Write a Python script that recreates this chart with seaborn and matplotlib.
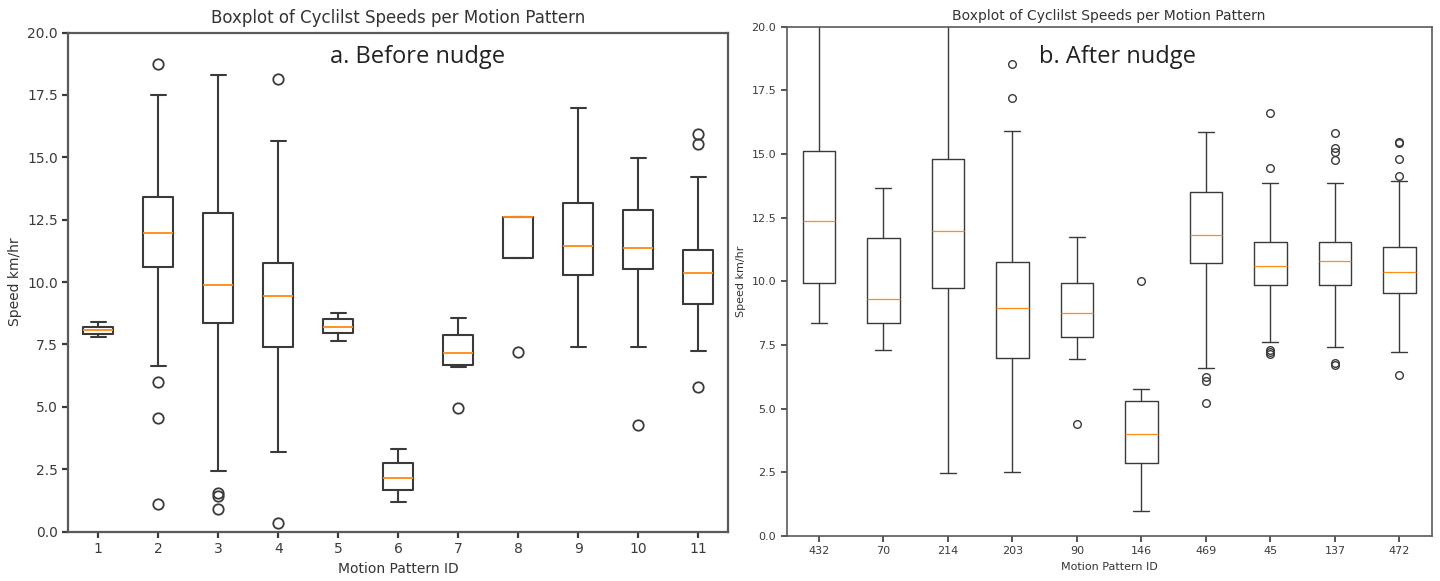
import matplotlib
matplotlib.use("Agg")
import matplotlib.pyplot as plt
import seaborn as sns

# ---- panel a: before nudge (stats) ----
ids_before = ["1", "2", "3", "4", "5", "6", "7", "8", "9", "10", "11"]
wlo_before = [7.79, 6.65, 2.45, 3.19, 7.65, 1.17, 6.61, 10.95, 7.39, 7.39, 7.24]
q1_before = [7.91, 10.59, 8.35, 7.39, 7.95, 1.65, 6.67, 10.95, 10.28, 10.51, 9.12]
med_before = [8.08, 11.95, 9.88, 9.44, 8.21, 2.17, 7.16, 12.59, 11.45, 11.35, 10.35]
q3_before = [8.21, 13.41, 12.75, 10.77, 8.51, 2.75, 7.87, 12.59, 13.15, 12.88, 11.28]
whi_before = [8.39, 17.48, 18.28, 15.65, 8.77, 3.31, 8.57, 12.59, 16.99, 14.97, 14.21]
fliers_before = [
    [],
    [18.75, 6.01, 4.57, 1.10],
    [1.55, 1.42, 0.91],
    [18.12, 0.35],
    [],
    [],
    [4.95],
    [7.19],
    [],
    [4.28],
    [15.95, 15.55, 5.79],
]

# ---- panel b: after nudge ----
ids_after = ["432", "70", "214", "203", "90", "146", "469", "45", "137", "472"]
wlo_after = [8.35, 7.29, 2.49, 2.51, 6.96, 0.99, 6.60, 7.60, 7.41, 7.24]
q1_after = [9.95, 8.35, 9.72, 7.00, 7.83, 2.88, 10.71, 9.85, 9.85, 9.53]
med_after = [12.37, 9.29, 11.99, 8.96, 8.74, 4.00, 11.81, 10.61, 10.80, 10.38]
q3_after = [15.13, 11.69, 14.79, 10.77, 9.92, 5.30, 13.52, 11.53, 11.53, 11.33]
whi_after = [22.5, 13.65, 22.5, 15.90, 11.73, 5.78, 15.87, 13.86, 13.86, 13.94]
fliers_after = [
    [],
    [],
    [],
    [18.52, 17.21],
    [4.38],
    [10.02],
    [6.26, 6.09, 5.21],
    [16.62, 14.44, 7.30, 7.22, 7.15],
    [15.81, 15.22, 15.09, 14.76, 6.78, 6.70],
    [15.48, 15.42, 14.79, 14.13, 6.31],
]

sns.set_style("ticks")
plt.rcParams["font.family"] = ["DejaVu Sans"]

fig = plt.figure(figsize=(14.4, 5.81), dpi=100)
ax1 = fig.add_axes([0.0474, 0.0849, 0.4584, 0.8591])
ax2 = fig.add_axes([0.5463, 0.0775, 0.4479, 0.8765])


def make_stats(ids, wlo, q1, med, q3, whi, fliers):
    stats = []
    for i in range(len(ids)):
        stats.append({
            "label": ids[i], "whislo": wlo[i], "q1": q1[i], "med": med[i],
            "q3": q3[i], "whishi": whi[i], "fliers": fliers[i],
        })
    return stats


def draw_panel(ax, stats, lw, msize, mew, spine_lw, tick_fs, label_fs, title_fs, pad):
    line = dict(color="#3a3a3a", linewidth=lw)
    ax.bxp(stats, widths=0.5,
           boxprops=line, whiskerprops=line, capprops=line,
           medianprops=dict(color="#ff8c1a", linewidth=lw * 0.9),
           flierprops=dict(marker="o", markerfacecolor="none",
                           markeredgecolor="#3a3a3a", markersize=msize,
                           markeredgewidth=mew))
    ax.set_ylim(0, 20)
    ax.set_xlim(0.5, len(stats) + 0.5)
    ax.set_yticks([0, 2.5, 5, 7.5, 10, 12.5, 15, 17.5, 20])
    ax.set_yticklabels(["0.0", "2.5", "5.0", "7.5", "10.0", "12.5",
                        "15.0", "17.5", "20.0"])
    ax.tick_params(labelsize=tick_fs, colors="#3a3a3a", width=spine_lw, length=4)
    for s in ax.spines.values():
        s.set_visible(True)
        s.set_linewidth(spine_lw)
        s.set_color("#5a5a5a")
    ax.set_title("Boxplot of Cyclilst Speeds per Motion Pattern",
                 fontsize=title_fs, color="#333333", pad=pad)
    ax.set_xlabel("Motion Pattern ID", fontsize=label_fs, color="#333333")
    ax.set_ylabel("Speed km/hr", fontsize=label_fs, color="#333333")


draw_panel(ax1, make_stats(ids_before, wlo_before, q1_before, med_before,
                           q3_before, whi_before, fliers_before),
           lw=1.5, msize=7.5, mew=1.3, spine_lw=1.6, tick_fs=10, label_fs=10,
           title_fs=12, pad=7)
draw_panel(ax2, make_stats(ids_after, wlo_after, q1_after, med_after,
                           q3_after, whi_after, fliers_after),
           lw=1.0, msize=5.5, mew=1.0, spine_lw=1.2, tick_fs=8, label_fs=8,
           title_fs=10, pad=5)

ax1.text(0.397, 0.95, "a. Before nudge", transform=ax1.transAxes,
         fontsize=17, family="Open Sans", color="#222222", va="center")
ax2.text(0.391, 0.94, "b. After nudge", transform=ax2.transAxes,
         fontsize=17, family="Open Sans", color="#222222", va="center")

fig.savefig("out.png", dpi=100)
